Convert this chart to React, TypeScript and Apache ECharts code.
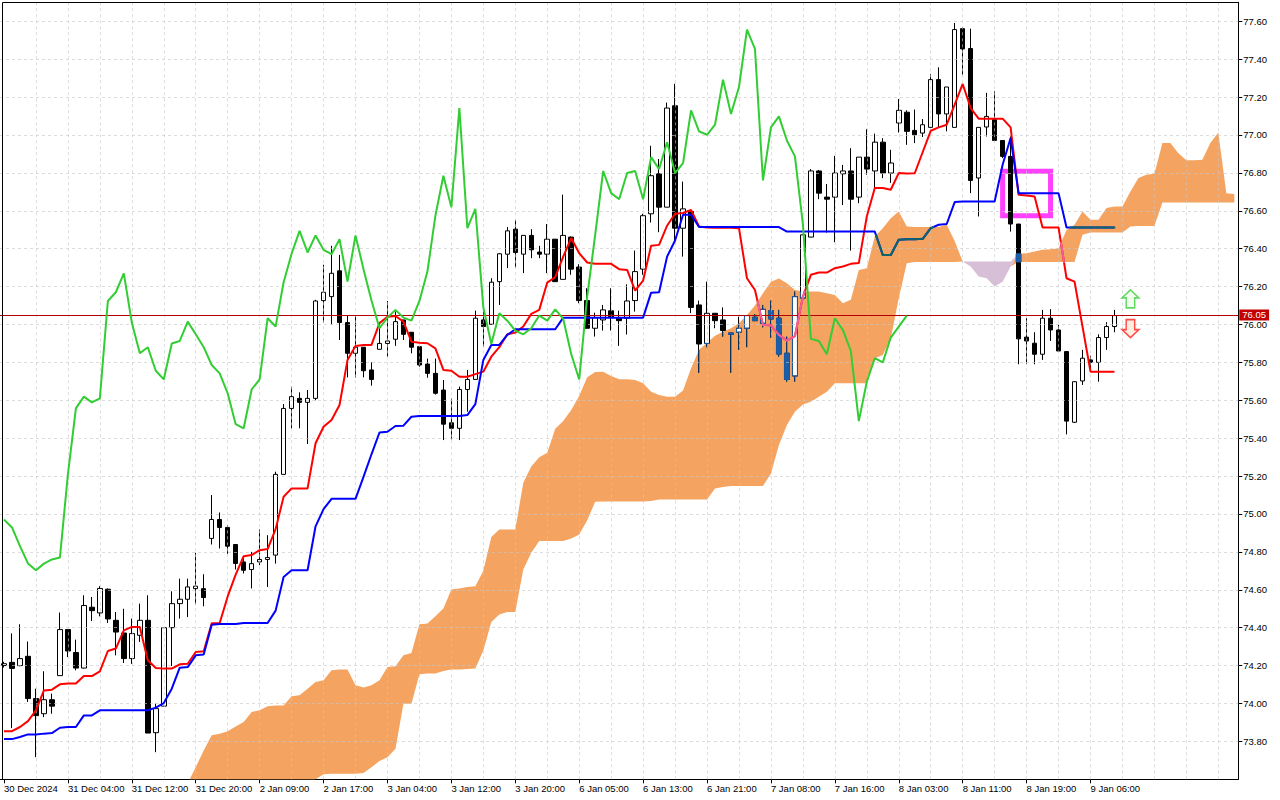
import React, { useEffect, useRef } from "react";
import * as echarts from "echarts";

// ---------- x-axis tick labels (every 8th hourly bar) ----------
const tickLabels = [
  "30 Dec 2024", "31 Dec 04:00", "31 Dec 12:00", "31 Dec 20:00", "2 Jan 09:00", "2 Jan 17:00",
  "3 Jan 04:00", "3 Jan 12:00", "3 Jan 20:00", "6 Jan 05:00", "6 Jan 13:00", "6 Jan 21:00",
  "7 Jan 08:00", "7 Jan 16:00", "8 Jan 03:00", "8 Jan 11:00", "8 Jan 19:00", "9 Jan 06:00",
];
const priceTicks = [73.8, 74.0, 74.2, 74.4, 74.6, 74.8, 75.0, 75.2, 75.4, 75.6, 75.8, 76.0, 76.2, 76.4, 76.6, 76.8, 77.0, 77.2, 77.4, 77.6];

// ---------- candles ----------
const opens = [
  74.20, 74.217, 74.20, 74.249, 74.026, 73.946, 74.020, 74.147, 74.39, 74.269,
  74.187, 74.508, 74.478, 74.603, 74.439, 74.372, 74.237, 74.36, 74.439, 73.846,
  73.986, 74.40, 74.527, 74.55, 74.606, 74.606, 74.871, 74.971, 74.929, 74.839,
  74.747, 74.707, 74.747, 74.76, 74.783, 75.209, 75.557, 75.61, 75.589, 75.61,
  76.126, 76.147, 76.283, 76.01, 75.848, 75.88, 75.76, 75.869, 75.90, 75.922,
  76.024, 75.959, 75.883, 75.791, 75.742, 75.654, 75.481, 75.452, 75.657, 75.71,
  76.024, 76.001, 76.226, 76.371, 76.503, 76.371, 76.47, 76.382, 76.371, 76.45,
  76.238, 76.461, 76.303, 76.126, 75.98, 76.024, 76.072, 76.036, 76.033, 76.126,
  76.292, 76.584, 76.795, 76.619, 77.154, 76.508, 76.596, 76.103, 75.90, 76.059,
  76.024, 75.955, 75.959, 75.98, 76.038, 76.006, 76.073, 76.033, 75.848, 75.728,
  76.139, 76.461, 76.81, 76.672, 76.672, 76.795, 76.81, 76.672, 76.883, 76.81,
  76.962, 76.799, 77.063, 77.12, 77.024, 77.010, 77.04, 77.292, 77.111, 77.04,
  77.561, 77.456, 76.773, 77.042, 77.081, 76.971, 76.887, 76.53, 75.933, 75.901,
  75.843, 76.033, 75.971, 75.857, 75.484, 75.702, 75.813, 75.80, 75.931, 75.989,
];
const closes = [
  74.21, 74.185, 74.237, 74.026, 73.936, 74.020, 73.986, 74.39, 74.277, 74.187,
  74.517, 74.49, 74.607, 74.446, 74.377, 74.237, 74.369, 74.439, 73.844, 73.973,
  74.40, 74.527, 74.55, 74.615, 74.619, 74.559, 74.971, 74.929, 74.83, 74.739,
  74.703, 74.738, 74.76, 74.77, 75.209, 75.557, 75.619, 75.589, 75.61, 76.124,
  76.17, 76.27, 76.01, 75.848, 75.88, 75.756, 75.71, 75.90, 75.913, 76.015,
  75.948, 75.88, 75.786, 75.742, 75.637, 75.474, 75.452, 75.657, 75.71, 76.033,
  75.989, 76.223, 76.373, 76.494, 76.38, 76.47, 76.394, 76.371, 76.45, 76.226,
  76.47, 76.292, 76.126, 75.98, 76.036, 76.077, 76.036, 76.02, 76.124, 76.279,
  76.574, 76.785, 76.619, 77.142, 76.508, 76.61, 76.09, 75.897, 76.059, 76.02,
  75.968, 75.948, 75.98, 76.047, 76.02, 76.08, 76.029, 75.844, 75.71, 76.147,
  76.473, 76.81, 76.693, 76.661, 76.799, 76.81, 76.661, 76.883, 76.82, 76.962,
  76.799, 76.852, 77.13, 77.019, 77.001, 77.054, 77.292, 77.111, 77.253, 77.556,
  77.454, 76.76, 77.04, 77.098, 76.971, 76.887, 76.53, 75.924, 75.913, 75.843,
  76.033, 75.971, 75.86, 75.49, 75.698, 75.822, 75.80, 75.931, 75.989, 76.047,
];
const lows = [
  74.19, 73.87, 74.196, 74.008, 73.717, 73.928, 73.946, 74.147, 74.245, 74.175,
  74.185, 74.435, 74.46, 74.425, 74.254, 74.214, 74.209, 74.325, 73.844, 73.743,
  73.986, 74.198, 74.448, 74.456, 74.524, 74.513, 74.839, 74.818, 74.79, 74.707,
  74.686, 74.607, 74.73, 74.615, 74.738, 75.209, 75.452, 75.452, 75.369, 75.60,
  76.01, 76.0, 75.918, 75.721, 75.72, 75.721, 75.677, 75.869, 75.83, 75.887,
  75.918, 75.848, 75.777, 75.719, 75.63, 75.39, 75.394, 75.39, 75.54, 75.71,
  75.883, 76.0, 76.103, 76.297, 76.30, 76.271, 76.35, 76.35, 76.271, 76.226,
  76.238, 76.262, 76.112, 75.98, 75.936, 75.968, 75.968, 75.887, 75.947, 76.068,
  76.262, 76.538, 76.487, 76.619, 76.445, 76.358, 76.06, 75.745, 75.88, 75.98,
  75.936, 75.745, 75.866, 75.88, 76.02, 75.985, 75.93, 75.83, 75.698, 75.698,
  76.139, 76.46, 76.661, 76.485, 76.434, 76.63, 76.39, 76.64, 76.79, 76.714,
  76.772, 76.747, 77.013, 76.948, 76.957, 76.989, 77.04, 77.04, 77.019, 77.04,
  77.318, 76.693, 76.57, 76.992, 76.971, 76.878, 76.49, 75.79, 75.79, 75.79,
  75.813, 75.913, 75.857, 75.42, 75.48, 75.681, 75.755, 75.698, 75.866, 75.959,
];
const highs = [
  74.22, 74.37, 74.418, 74.327, 74.078, 74.170, 74.052, 74.48, 74.39, 74.337,
  74.571, 74.562, 74.619, 74.607, 74.483, 74.50, 74.448, 74.527, 74.571, 73.999,
  74.40, 74.592, 74.659, 74.659, 74.795, 74.682, 75.10, 75.008, 74.941, 74.84,
  74.774, 74.80, 74.918, 74.888, 75.223, 75.58, 75.672, 75.642, 75.654, 76.13,
  76.315, 76.415, 76.367, 76.045, 76.045, 75.88, 75.80, 75.98, 76.124, 76.068,
  76.024, 75.96, 75.883, 75.82, 75.82, 75.707, 75.61, 75.672, 75.76, 76.073,
  76.068, 76.244, 76.376, 76.514, 76.552, 76.47, 76.503, 76.415, 76.53, 76.45,
  76.685, 76.465, 76.318, 76.191, 76.062, 76.103, 76.191, 76.073, 76.212, 76.39,
  76.584, 76.943, 76.873, 77.171, 77.27, 76.754, 76.60, 76.126, 76.226, 76.06,
  76.09, 75.955, 76.041, 76.05, 76.054, 76.103, 76.126, 76.077, 75.936, 76.174,
  76.475, 76.82, 76.815, 76.741, 76.89, 76.842, 76.93, 76.883, 77.03, 77.007,
  76.983, 76.922, 77.19, 77.13, 77.134, 77.084, 77.322, 77.357, 77.253, 77.591,
  77.568, 77.561, 77.04, 77.222, 77.23, 76.971, 76.992, 76.53, 76.033, 75.959,
  76.077, 76.081, 75.998, 75.86, 75.70, 75.866, 75.835, 75.948, 76.012, 76.077,
];

// ---------- Ichimoku lines ----------
const tenkan = [
  73.854, 73.854, 73.876, 73.907, 73.964, 74.069, 74.073, 74.101, 74.105, 74.105,
  74.145, 74.145, 74.17, 74.277, 74.29, 74.386, 74.404, 74.404, 74.228, 74.187,
  74.184, 74.184, 74.207, 74.21, 74.272, 74.276, 74.423, 74.425, 74.565, 74.68,
  74.777, 74.783, 74.809, 74.815, 74.92, 75.091, 75.135, 75.135, 75.135, 75.373,
  75.46, 75.496, 75.575, 75.813, 75.887, 75.892, 75.892, 76.007, 76.041, 76.045,
  76.015, 75.909, 75.904, 75.901, 75.874, 75.76, 75.756, 75.724, 75.724, 75.738,
  75.751, 75.83, 75.88, 75.948, 75.957, 75.989, 76.056, 76.077, 76.221, 76.25,
  76.358, 76.456, 76.376, 76.327, 76.32, 76.32, 76.32, 76.292, 76.288, 76.179,
  76.232, 76.415, 76.42, 76.521, 76.584, 76.588, 76.605, 76.517, 76.512, 76.51,
  76.51, 76.51, 76.508, 76.244, 76.182, 75.998, 75.995, 75.945, 75.915, 75.938,
  76.147, 76.262, 76.274, 76.274, 76.297, 76.306, 76.32, 76.324, 76.57, 76.72,
  76.72, 76.711, 76.799, 76.797, 76.798, 76.91, 77.022, 77.04, 77.054, 77.16,
  77.269, 77.142, 77.086, 77.086, 77.086, 77.086, 77.04, 76.684, 76.681, 76.675,
  76.512, 76.512, 76.512, 76.244, 76.226, 75.989, 75.751, 75.751, 75.751, 75.751,
];
const kijun = [
  73.812, 73.812, 73.823, 73.837, 73.837, 73.841, 73.844, 73.872, 73.876, 73.876,
  73.937, 73.937, 73.964, 73.964, 73.964, 73.964, 73.964, 73.964, 73.964, 73.978,
  74.002, 74.078, 74.189, 74.192, 74.254, 74.258, 74.415, 74.42, 74.42, 74.42,
  74.425, 74.425, 74.425, 74.425, 74.49, 74.668, 74.703, 74.703, 74.703, 74.935,
  75.026, 75.08, 75.08, 75.08, 75.08, 75.196, 75.315, 75.43, 75.434, 75.464,
  75.466, 75.513, 75.517, 75.517, 75.517, 75.517, 75.517, 75.517, 75.522, 75.58,
  75.813, 75.892, 75.892, 75.945, 75.975, 75.975, 75.975, 75.975, 75.975, 75.975,
  76.036, 76.036, 76.036, 76.036, 76.036, 76.036, 76.036, 76.036, 76.036, 76.036,
  76.036, 76.168, 76.17, 76.358, 76.443, 76.579, 76.579, 76.514, 76.514, 76.514,
  76.514, 76.514, 76.514, 76.514, 76.514, 76.514, 76.514, 76.514, 76.49, 76.49,
  76.49, 76.49, 76.49, 76.49, 76.49, 76.49, 76.49, 76.49, 76.49, 76.49,
  76.367, 76.367, 76.447, 76.45, 76.45, 76.452, 76.508, 76.526, 76.53, 76.646,
  76.649, 76.649, 76.649, 76.649, 76.649, 76.843, 76.984, 76.693, 76.693, 76.693,
  76.693, 76.693, 76.693, 76.512, 76.512, 76.512, 76.512, 76.512, 76.512, 76.512,
];
// Kumo spans, starting at bar 23 (already displaced 26 bars forward)
const cloudStart = 23;
const spanAValues = [
  73.58, 73.664, 73.752, 73.832, 73.841, 73.854, 73.879,
  73.902, 73.955, 73.964, 73.985, 73.989, 73.99, 74.038, 74.043, 74.078, 74.113,
  74.122, 74.175, 74.179, 74.179, 74.096, 74.084, 74.096, 74.122, 74.193, 74.196,
  74.254, 74.266, 74.418, 74.422, 74.46, 74.501, 74.601, 74.607, 74.615, 74.619,
  74.70, 74.879, 74.918, 74.918, 74.918, 75.165, 75.25, 75.30, 75.323, 75.45,
  75.49, 75.549, 75.623, 75.721, 75.749, 75.751, 75.728, 75.711, 75.711, 75.707,
  75.69, 75.645, 75.628, 75.619, 75.619, 75.651, 75.769, 75.866, 75.904, 75.94,
  75.962, 75.98, 76.007, 76.05, 76.10, 76.165, 76.226, 76.242, 76.218, 76.182,
  76.174, 76.174, 76.174, 76.165, 76.156, 76.112, 76.13, 76.288, 76.297, 76.464,
  76.508, 76.561, 76.596, 76.517, 76.514, 76.514, 76.514, 76.514, 76.526, 76.44,
  76.332, 76.306, 76.253, 76.244, 76.20, 76.226, 76.306, 76.373, 76.376, 76.385,
  76.394, 76.397, 76.402, 76.499, 76.526, 76.596, 76.552, 76.552, 76.614, 76.623,
  76.623, 76.702, 76.773, 76.79, 76.795, 76.957, 76.957, 76.904, 76.866, 76.866,
  76.869, 76.957, 77.013, 76.693, 76.689,
];
const spanBValues = [
  73.45, 73.45, 73.45, 73.45, 73.45, 73.45, 73.45, 73.45, 73.45, 73.45, 73.45, 73.45, 73.45,
  73.55, 73.56, 73.57, 73.60,
  73.626, 73.629, 73.629, 73.629, 73.629, 73.633, 73.664, 73.696, 73.717, 73.761,
  73.999, 73.999, 74.154, 74.158, 74.158, 74.171, 74.179, 74.179, 74.182, 74.184,
  74.28, 74.43, 74.47, 74.483, 74.483, 74.707, 74.795, 74.858, 74.858, 74.858,
  74.858, 74.871, 74.892, 74.967, 75.064, 75.066, 75.066, 75.066, 75.066, 75.066,
  75.066, 75.069, 75.077, 75.077, 75.077, 75.077, 75.077, 75.077, 75.077, 75.135,
  75.143, 75.147, 75.147, 75.147, 75.147, 75.147, 75.214, 75.364, 75.469, 75.54,
  75.578, 75.592, 75.619, 75.645, 75.69, 75.69, 75.69, 75.69, 75.69, 75.822,
  75.839, 75.927, 76.138, 76.323, 76.33, 76.33, 76.33, 76.33, 76.33, 76.33,
  76.332, 76.332, 76.332, 76.332, 76.332, 76.332, 76.332, 76.33, 76.33, 76.33,
  76.33, 76.33, 76.33, 76.33, 76.33, 76.473, 76.485, 76.485, 76.485, 76.485,
  76.485, 76.517, 76.52, 76.52, 76.52, 76.644, 76.644, 76.644, 76.644, 76.644,
  76.644, 76.644, 76.644, 76.644, 76.644,
];
const chikouShift = 26; // lagging span = close plotted 26 bars back

// signal arrows and highlight box
const signalArrows = [
  { bar: 141, price: 76.135, dir: "up" },
  { bar: 141, price: 75.978, dir: "down" },
];
const highlightBox = { fromBar: 125, toBar: 131, top: 76.808, bottom: 76.574 };

const TOTAL_BARS = 155;

const FONT = "'Liberation Sans', Arial, sans-serif";
const IN_CLOUD_CANDLE = "#1c5ea8";
const IN_CLOUD_TENKAN = "#f0609e";
const IN_CLOUD_KIJUN = "#0e6468";

const categories = Array.from({ length: TOTAL_BARS }, (_, i) =>
  i % 8 === 0 && i / 8 < tickLabels.length ? tickLabels[i / 8] : "b" + i
);
const isLabelIdx = (i: number) => i % 8 === 0 && i / 8 < tickLabels.length;

const spanA = categories.map((_, i) => (i >= cloudStart ? spanAValues[i - cloudStart] : null));
const spanB = categories.map((_, i) => (i >= cloudStart ? spanBValues[i - cloudStart] : null));
const cloudBase = spanA.map((a, i) => (a == null || spanB[i] == null ? null : Math.min(a, spanB[i] as number)));
const cloudUp = spanA.map((a, i) => (a == null || spanB[i] == null ? null : Math.max(0, a - (spanB[i] as number))));
const cloudDown = spanA.map((a, i) => (a == null || spanB[i] == null ? null : Math.max(0, (spanB[i] as number) - a)));
const chikou = closes.slice(chikouShift);
const lastPrice = closes[closes.length - 1];

function inCloudParts(T0: number, T1: number, A0: number, A1: number, B0: number, B1: number) {
  const u0 = T0 - A0, u1 = T1 - A1, v0 = T0 - B0, v1 = T1 - B1;
  const cuts = [0, 1];
  const addRoot = (p: number, q: number) => {
    if ((p < 0 && q > 0) || (p > 0 && q < 0)) cuts.push(p / (p - q));
  };
  addRoot(u0, u1);
  addRoot(v0, v1);
  cuts.sort((a, b) => a - b);
  const parts: number[][] = [];
  for (let k = 0; k < cuts.length - 1; k++) {
    const s = cuts[k], e = cuts[k + 1];
    if (e - s < 1e-9) continue;
    const m = (s + e) / 2;
    const u = u0 + (u1 - u0) * m, v = v0 + (v1 - v0) * m;
    if (u * v <= 0) {
      const last = parts[parts.length - 1];
      if (last && Math.abs(last[1] - s) < 1e-9) last[1] = e;
      else parts.push([s, e]);
    }
  }
  return parts;
}

function makeLineOverlay(vals: number[], color: string) {
  return {
    type: "custom",
    z: 6,
    silent: true,
    encode: { x: 0, y: 1 },
    data: vals.slice(0, -1).map((v, i) => [i, v]),
    renderItem: (params: any, api: any) => {
      const i = api.value(0);
      const A0 = spanA[i], A1 = spanA[i + 1], B0 = spanB[i], B1 = spanB[i + 1];
      if (A0 == null || A1 == null || B0 == null || B1 == null) return null;
      const T0 = vals[i], T1 = vals[i + 1];
      const parts = inCloudParts(T0, T1, A0, A1, B0, B1);
      if (!parts.length) return null;
      const p0 = api.coord([i, T0]);
      const p1 = api.coord([i + 1, T1]);
      const lerp = (t: number) => [p0[0] + (p1[0] - p0[0]) * t, p0[1] + (p1[1] - p0[1]) * t];
      return {
        type: "group",
        children: parts.map(([s, e]) => {
          const a = lerp(s), b = lerp(e);
          return {
            type: "line",
            shape: { x1: a[0], y1: a[1], x2: b[0], y2: b[1] },
            style: { stroke: color, lineWidth: 2, lineCap: "round" },
          };
        }),
      };
    },
  };
}

const candleOverlay = {
  type: "custom",
  z: 4,
  silent: true,
  encode: { x: 0, y: 1 },
  data: closes.map((c, i) => [i, c]),
  renderItem: (params: any, api: any) => {
    const i = api.value(0);
    const a = spanA[i], b = spanB[i];
    if (a == null || b == null) return null;
    const lo = Math.min(a, b), hi = Math.max(a, b);
    const o = opens[i], c = closes[i], l = lows[i], h = highs[i];
    const bTop = Math.max(o, c), bBot = Math.min(o, c);
    const seg = (p1: number, p2: number) => {
      const s = Math.max(p1, lo), e = Math.min(p2, hi);
      return s < e ? [s, e] : null;
    };
    const children: any[] = [];
    const line = (x1: number, y1: number, x2: number, y2: number) =>
      children.push({ type: "line", shape: { x1, y1, x2, y2 }, style: { stroke: IN_CLOUD_CANDLE, lineWidth: 1 } });
    for (const w of [seg(l, bBot), seg(bTop, h)]) {
      if (!w) continue;
      const p1 = api.coord([i, w[0]]), p2 = api.coord([i, w[1]]);
      line(p1[0], p1[1], p2[0], p2[1]);
    }
    const bs = seg(bBot, bTop);
    if (bs) {
      const pt = api.coord([i, bs[1]]), pb = api.coord([i, bs[0]]);
      const x0 = pt[0] - 2.5, x1 = pt[0] + 2.5;
      if (c < o) {
        children.push({
          type: "rect",
          shape: { x: x0, y: pt[1], width: 5, height: Math.max(0.5, pb[1] - pt[1]) },
          style: { fill: IN_CLOUD_CANDLE, stroke: IN_CLOUD_CANDLE, lineWidth: 1 },
        });
      } else {
        line(x0, pt[1], x0, pb[1]);
        line(x1, pt[1], x1, pb[1]);
        if (bTop <= hi && bTop >= lo) line(x0, pt[1], x1, pt[1]);
        if (bBot <= hi && bBot >= lo) line(x0, pb[1], x1, pb[1]);
      }
    }
    if (!children.length) return null;
    return { type: "group", children };
  },
};

const vGridBars = Array.from({ length: Math.floor((TOTAL_BARS - 1) / 4) }, (_, k) => 4 * (k + 1));

export default function App() {
  const ref = useRef<HTMLDivElement>(null);
  useEffect(() => {
    if (!ref.current) return;
    const chart = echarts.init(ref.current, undefined, { renderer: "svg" });
    const option: any = {
      animation: false,
      backgroundColor: "#ffffff",
      textStyle: { fontFamily: FONT },
      grid: { left: -1.7, top: 2.3, width: 1240, height: 777, containLabel: false },
      xAxis: {
        type: "category",
        data: categories,
        boundaryGap: true,
        axisLine: { show: true, lineStyle: { color: "#000", width: 1 } },
        axisTick: { show: true, alignWithLabel: true, interval: (i: number) => isLabelIdx(i), length: 4, lineStyle: { color: "#000" } },
        axisLabel: {
          interval: (i: number) => isLabelIdx(i),
          align: "left",
          margin: 4,
          fontSize: 9.5,
          color: "#000",
          fontFamily: FONT,
        },
        splitLine: { show: false },
      },
      yAxis: {
        type: "value",
        position: "right",
        min: 73.6,
        max: 77.7,
        interval: 0.2,
        scale: true,
        axisLine: { show: true, lineStyle: { color: "#000", width: 1 } },
        axisTick: { show: true, length: 4, lineStyle: { color: "#000" } },
        axisLabel: {
          fontSize: 9.5,
          color: "#000",
          margin: 5,
          fontFamily: FONT,
          showMinLabel: false,
          showMaxLabel: false,
          formatter: (v: number) => v.toFixed(2),
        },
        splitLine: { show: false },
      },
      graphic: [
        {
          type: "polyline",
          silent: true,
          z: 100,
          shape: { points: [[2.5, 779.3], [2.5, 2.5], [1238.3, 2.5]] },
          style: { stroke: "#000", lineWidth: 1, fill: null },
        },
      ],
      series: [
        {
          name: "cloudBase",
          type: "line",
          stack: "kumo",
          data: cloudBase,
          symbol: "none",
          silent: true,
          z: 1,
          lineStyle: { width: 0, opacity: 0 },
        },
        {
          name: "cloudUp",
          type: "line",
          stack: "kumo",
          data: cloudUp,
          symbol: "none",
          silent: true,
          z: 1,
          lineStyle: { width: 0, opacity: 0 },
          areaStyle: { color: "#f4a460", opacity: 1 },
        },
        {
          name: "cloudDown",
          type: "line",
          stack: "kumo",
          data: cloudDown,
          symbol: "none",
          silent: true,
          z: 1,
          lineStyle: { width: 0, opacity: 0 },
          areaStyle: { color: "#d8bfd8", opacity: 1 },
        },
        {
          name: "gridLines",
          type: "line",
          data: categories.map(() => null),
          symbol: "none",
          silent: true,
          z: 2,
          markLine: {
            silent: true,
            symbol: ["none", "none"],
            label: { show: false },
            lineStyle: { color: "rgba(200,200,200,0.62)", type: [3, 3], width: 1 },
            data: [
              ...priceTicks.map((v) => ({ yAxis: v })),
              ...vGridBars.map((b) => ({ xAxis: b })),
            ],
          },
        },
        {
          name: "candles",
          type: "candlestick",
          data: opens.map((o, i) => [o, closes[i], lows[i], highs[i]]),
          barWidth: 5,
          silent: true,
          z: 3,
          itemStyle: {
            color: "#ffffff",
            color0: "#000000",
            borderColor: "#000000",
            borderColor0: "#000000",
            borderColorDoji: "#000000",
            borderWidth: 1,
          },
          markLine: {
            silent: true,
            symbol: ["none", "none"],
            lineStyle: { color: "#b40000", width: 1, type: "solid" },
            label: {
              show: true,
              position: "end",
              formatter: lastPrice.toFixed(2),
              color: "#ffffff",
              backgroundColor: "#c40000",
              padding: [1, 3, 0, 3],
              fontSize: 9.5,
              fontFamily: FONT,
              distance: 1,
            },
            data: [{ yAxis: lastPrice }],
          },
        },
        candleOverlay,
        {
          name: "tenkan",
          type: "line",
          data: tenkan,
          symbol: "none",
          silent: true,
          z: 5,
          lineStyle: { color: "#ff0000", width: 2 },
        },
        {
          name: "kijun",
          type: "line",
          data: kijun,
          symbol: "none",
          silent: true,
          z: 5,
          lineStyle: { color: "#0000ff", width: 2 },
        },
        {
          name: "chikou",
          type: "line",
          data: chikou,
          symbol: "none",
          silent: true,
          z: 5,
          lineStyle: { color: "#32cd32", width: 2 },
        },
        makeLineOverlay(tenkan, IN_CLOUD_TENKAN),
        makeLineOverlay(kijun, IN_CLOUD_KIJUN),
        {
          name: "arrows",
          type: "scatter",
          silent: true,
          z: 8,
          symbol: "path://M8,0L16,8L12,8L12,18L4,18L4,8L0,8Z",
          symbolSize: [17, 18],
          data: signalArrows.map((s) => ({
            value: [s.bar, s.price],
            symbolRotate: s.dir === "up" ? 0 : 180,
            itemStyle:
              s.dir === "up"
                ? { color: "#f0ffe8", borderColor: "#3fcf3f", borderWidth: 1.5 }
                : { color: "#ffe8d8", borderColor: "#ff2020", borderWidth: 1.5 },
          })),
          markArea: {
            silent: true,
            itemStyle: { color: "rgba(0,0,0,0)", borderColor: "#ff40ff", borderWidth: 5 },
            data: [
              [
                { xAxis: highlightBox.fromBar, yAxis: highlightBox.top },
                { xAxis: highlightBox.toBar, yAxis: highlightBox.bottom },
              ],
            ],
          },
        },
      ],
    };
    chart.setOption(option);
    return () => chart.dispose();
  }, []);
  return (
    <div
      ref={ref}
      style={{ position: "fixed", left: 0, top: 0, width: 1280, height: 800, background: "#ffffff" }}
    />
  );
}
